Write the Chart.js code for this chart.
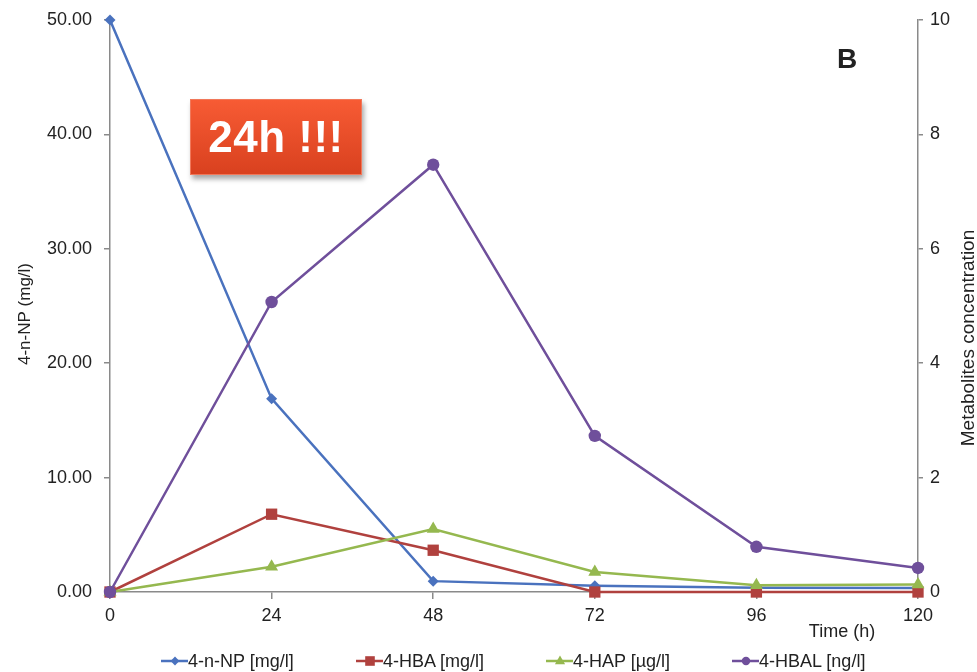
<!DOCTYPE html>
<html>
<head>
<meta charset="utf-8">
<script src="https://cdn.jsdelivr.net/npm/chart.js@4/dist/chart.umd.min.js"></script>
<style>
  html, body { margin: 0; padding: 0; background: #fff; }
  #wrap { position: relative; width: 977px; height: 672px; font-family: "Liberation Sans", Arial, sans-serif; }
  #chart { position: absolute; left: 0; top: 0; }
  #badge {
    position: absolute; left: 190px; top: 99px; width: 172px; height: 76px;
    background: linear-gradient(#f75b34, #d9411f);
    border: 1px solid #f1785a; box-sizing: border-box;
    box-shadow: 2px 4px 5px rgba(0,0,0,0.35);
    color: #fff; font: bold 44px "Liberation Sans", Arial, sans-serif;
    text-align: center; line-height: 74px; letter-spacing: 0.5px;
  }
  #legend { position: absolute; left: 0; top: 650px; width: 977px; height: 22px; }
  .item { position: absolute; top: 0; display: flex; align-items: center; height: 22px;
          font-size: 18px; color: #222; white-space: nowrap; }
</style>
</head>
<body>
<div id="wrap">
  <canvas id="chart" width="977" height="672"></canvas>
  <div id="badge">24h !!!</div>
  <div id="legend"></div>
</div>
<script>
// Sampling times (h)
const times = [0, 24, 48, 72, 96, 120];
// 4-n-NP degradation, left axis (mg/l)
const nonylphenol = [50.0, 16.9, 0.95, 0.55, 0.38, 0.35];
// Metabolites, right axis
const hba  = [0, 1.36, 0.73, 0, 0, 0];          // 4-HBA [mg/l]
const hap  = [0, 0.44, 1.10, 0.35, 0.12, 0.13]; // 4-HAP [µg/l]
const hbal = [0, 5.07, 7.47, 2.73, 0.79, 0.42]; // 4-HBAL [ng/l]
// Axis tick values
const leftTicks = [0, 10, 20, 30, 40, 50];
const rightTicks = [0, 2, 4, 6, 8, 10];
const timeTicks = [0, 24, 48, 72, 96, 120];

const seriesNames = ['4-n-NP [mg/l]', '4-HBA [mg/l]', '4-HAP [µg/l]', '4-HBAL [ng/l]'];
const colors = ['#4a72be', '#b0413e', '#95b84f', '#6f4f9b'];
const styles = ['rectRot', 'rect', 'triangle', 'circle'];
const radii = [5.5, 8, 7.5, 6.2];

const pts = arr => arr.map((v, i) => ({ x: times[i], y: v }));
const allValues = [nonylphenol, hba, hap, hbal];
const axisIds = ['yL', 'yR', 'yR', 'yR'];
const drawOrder = [3, 2, 1, 0];

const datasets = allValues.map((vals, i) => ({
  label: seriesNames[i],
  data: pts(vals),
  yAxisID: axisIds[i],
  borderColor: colors[i],
  backgroundColor: colors[i],
  borderWidth: 2.5,
  pointStyle: styles[i],
  pointRadius: radii[i],
  pointHoverRadius: radii[i],
  pointBorderWidth: 0,
  tension: 0,
  clip: false,
  order: drawOrder[i]
}));

const axisGrey = '#8a8a8a';
const FONT = '"Liberation Sans", Arial, sans-serif';
const tickFont = { family: FONT, size: 18 };

// Extra text: panel letter, time label, both axis titles (reading upward)
const extras = {
  id: 'extras',
  afterDraw(chart) {
    const ctx = chart.ctx;
    ctx.save();
    ctx.fillStyle = '#222';
    ctx.textAlign = 'center';
    ctx.textBaseline = 'middle';
    ctx.font = 'bold 28px ' + FONT;
    ctx.fillText('B', 847, 60);
    ctx.font = '18px ' + FONT;
    ctx.fillText('Time (h)', 842, 632);

    ctx.save();
    ctx.font = '17px ' + FONT;
    ctx.translate(25, 314);
    ctx.rotate(-Math.PI / 2);
    ctx.fillText('4-n-NP (mg/l)', 0, 0);
    ctx.restore();

    ctx.save();
    ctx.font = '19px ' + FONT;
    ctx.translate(969, 338);
    ctx.rotate(-Math.PI / 2);
    ctx.fillText('Metabolites concentration', 0, 0);
    ctx.restore();
    ctx.restore();
  }
};

// Vertical axes: fixed widths, no extra label padding at the ends
const fitY = w => s => { s.width = w; s.paddingTop = 0; s.paddingBottom = 0; };

new Chart(document.getElementById('chart'), {
  type: 'line',
  data: { datasets },
  options: {
    responsive: false,
    animation: false,
    events: [],
    layout: { padding: { top: 20, left: 0, right: 0, bottom: 0 } },
    plugins: { legend: { display: false }, tooltip: { enabled: false } },
    scales: {
      x: {
        type: 'linear', min: 0, max: 120,
        afterBuildTicks: s => { s.ticks = timeTicks.map(v => ({ value: v })); },
        afterFit: s => { s.height = 80; s.paddingLeft = 0; s.paddingRight = 0; },
        border: { color: axisGrey, width: 1.5 },
        grid: { drawOnChartArea: false, drawTicks: true, tickLength: 7, color: axisGrey, lineWidth: 1.5 },
        ticks: { font: tickFont, color: '#222', padding: 6, maxRotation: 0 }
      },
      yL: {
        type: 'linear', position: 'left', min: 0, max: 50,
        afterBuildTicks: s => { s.ticks = leftTicks.map(v => ({ value: v })); },
        afterFit: fitY(110),
        border: { color: axisGrey, width: 1.5 },
        grid: { drawOnChartArea: false, drawTicks: true, tickLength: 6, color: axisGrey, lineWidth: 1.5 },
        ticks: { font: tickFont, color: '#222', padding: 12, callback: v => v.toFixed(2) }
      },
      yR: {
        type: 'linear', position: 'right', min: 0, max: 10,
        afterBuildTicks: s => { s.ticks = rightTicks.map(v => ({ value: v })); },
        afterFit: fitY(59),
        border: { color: axisGrey, width: 1.5 },
        grid: { drawOnChartArea: false, drawTicks: true, tickLength: 5, color: axisGrey, lineWidth: 1.5 },
        ticks: { font: tickFont, color: '#222', padding: 7 }
      }
    }
  },
  plugins: [extras]
});

// Legend: short line with marker, followed by series name
const legendX = [161, 356, 546, 732];
const legend = document.getElementById('legend');
seriesNames.forEach((name, i) => {
  const item = document.createElement('div');
  item.className = 'item';
  item.style.left = legendX[i] + 'px';
  const c = document.createElement('canvas');
  c.width = 27; c.height = 16;
  const g = c.getContext('2d');
  g.strokeStyle = colors[i]; g.fillStyle = colors[i]; g.lineWidth = 2.5;
  g.beginPath(); g.moveTo(0, 8); g.lineTo(27, 8); g.stroke();
  const cx = 14, r = radii[i] * 0.8;
  g.beginPath();
  if (styles[i] === 'rectRot') { g.moveTo(cx, 8 - r); g.lineTo(cx + r, 8); g.lineTo(cx, 8 + r); g.lineTo(cx - r, 8); }
  else if (styles[i] === 'rect') { const s = r * 0.75; g.rect(cx - s, 8 - s, 2 * s, 2 * s); }
  else if (styles[i] === 'triangle') { g.moveTo(cx, 8 - r * 0.9); g.lineTo(cx + r * 0.85, 8 + r * 0.55); g.lineTo(cx - r * 0.85, 8 + r * 0.55); }
  else { g.arc(cx, 8, r * 0.85, 0, Math.PI * 2); }
  g.closePath(); g.fill();
  item.appendChild(c);
  const t = document.createElement('span');
  t.textContent = name;
  item.appendChild(t);
  legend.appendChild(item);
});
</script>
</body>
</html>
